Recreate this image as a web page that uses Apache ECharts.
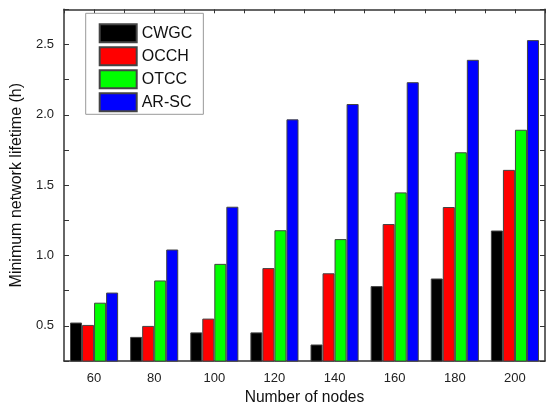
<!DOCTYPE html>
<html>
<head>
<meta charset="utf-8">
<script src="https://cdn.jsdelivr.net/npm/echarts@6/dist/echarts.min.js"></script>
<style>
html,body{margin:0;padding:0;background:#fff;}
#chart{width:546px;height:411px;}
</style>
</head>
<body>
<div id="chart"></div>
<script>
const categories = ['60', '80', '100', '120', '140', '160', '180', '200'];
const seriesNames = ['CWGC', 'OCCH', 'OTCC', 'AR-SC'];
const cwgc = [0.524, 0.422, 0.454, 0.454, 0.368, 0.783, 0.837, 1.178];
const occh = [0.507, 0.500, 0.552, 0.911, 0.874, 1.224, 1.345, 1.609];
const otcc = [0.665, 0.823, 0.941, 1.180, 1.117, 1.449, 1.734, 1.894];
const arsc = [0.737, 1.043, 1.347, 1.968, 2.077, 2.232, 2.391, 2.531];
const colors = ['#000000', '#ff0000', '#00ff00', '#0000ff'];
const seriesData = [cwgc, occh, otcc, arsc];

const font = '"Liberation Sans", Arial, sans-serif';
const axisColor = '#333333';

const chart = echarts.init(document.getElementById('chart'), null, {renderer: 'canvas'});
chart.setOption({
  backgroundColor: '#ffffff',
  animation: false,
  grid: {left: 64, right: 1, top: 9.3, bottom: 42.3, containLabel: false},
  legend: {
    orient: 'vertical',
    left: 85.7,
    top: 13.3,
    padding: [10, 11, 2, 13],
    itemWidth: 37,
    itemHeight: 18,
    itemGap: 3,
    icon: 'rect',
    backgroundColor: '#ffffff',
    borderColor: '#999999',
    borderWidth: 1,
    textStyle: {fontFamily: font, fontSize: 16, color: '#111', lineHeight: 18},
    data: seriesNames
  },
  xAxis: [{
    type: 'category',
    data: categories,
    position: 'bottom',
    name: 'Number of nodes',
    nameLocation: 'middle',
    nameGap: 21,
    nameTextStyle: {fontFamily: font, fontSize: 15.6, color: '#111'},
    axisLine: {lineStyle: {color: axisColor, width: 1.5}},
    axisTick: {inside: true, length: 4, lineStyle: {color: axisColor}},
    axisLabel: {fontFamily: font, fontSize: 13, color: '#222', margin: 11},
    splitLine: {show: false}
  }, {
    type: 'value',
    position: 'top',
    min: 50, max: 210, interval: 10,
    axisLine: {show: true, onZero: false, lineStyle: {color: axisColor, width: 1.5}},
    axisTick: {show: true, inside: true, length: 4, lineStyle: {color: axisColor}},
    axisLabel: {show: false},
    splitLine: {show: false}
  }],
  yAxis: [{
    type: 'value',
    position: 'left',
    min: 0.25, max: 2.75, interval: 0.25,
    name: 'Minimum network lifetime (h)',
    nameLocation: 'middle',
    nameGap: 31,
    nameTextStyle: {fontFamily: font, fontSize: 16, color: '#111'},
    axisLine: {show: true, onZero: false, lineStyle: {color: axisColor, width: 1.5}},
    axisTick: {show: true, inside: true, length: 5, lineStyle: {color: axisColor}},
    axisLabel: {
      fontFamily: font, fontSize: 13, color: '#222', margin: 10,
      formatter: function (v) {
        return Math.abs(v * 2 - Math.round(v * 2)) < 1e-6 ? v.toFixed(1) : '';
      }
    },
    splitLine: {show: false}
  }, {
    type: 'value',
    position: 'right',
    min: 0.25, max: 2.75, interval: 0.25,
    axisLine: {show: true, onZero: false, lineStyle: {color: axisColor, width: 1.5}},
    axisTick: {show: true, inside: true, length: 5, lineStyle: {color: axisColor}},
    axisLabel: {show: false},
    splitLine: {show: false}
  }],
  series: seriesNames.map(function (name, i) {
    return {
      name: name,
      type: 'bar',
      xAxisIndex: 0,
      yAxisIndex: 0,
      data: seriesData[i],
      barGap: '0%',
      barCategoryGap: '20%',
      itemStyle: {color: colors[i], borderColor: '#444444', borderWidth: 1}
    };
  })
});
</script>
</body>
</html>
